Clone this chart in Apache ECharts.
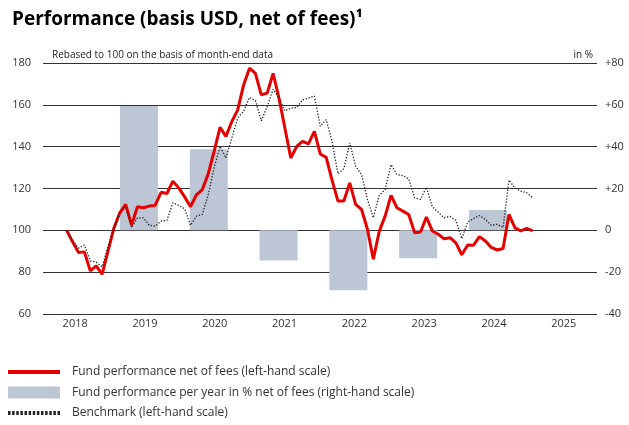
<!DOCTYPE html>
<html>
<head>
<meta charset="utf-8">
<script src="https://cdn.jsdelivr.net/npm/echarts@6/dist/echarts.min.js"></script>
<style>
  html, body { margin: 0; padding: 0; background: #fff; }
  #chart { width: 629px; height: 425px; }
</style>
</head>
<body>
<div id="chart"></div>
<script>
// ---- Data ----
// Month-end values, one per month, starting mid-2018 (month index 0)
const fund = [
  100, 94.5, 89.4, 89.7, 80.6, 83, 79, 90, 101, 108.4,
  112.4, 102.5, 111.3, 110.8, 111.6, 111.9, 118.2, 117.6, 123.5, 120.3,
  116, 111.3, 117, 119.5, 127, 137.8, 149.2, 144.9, 152, 157.6,
  169.5, 177.5, 175, 164.8, 165.6, 175, 163.2, 148.9, 134.6, 140.1,
  142.5, 141.3, 147.3, 136.5, 134.9, 124, 114, 114, 122.7, 112.4,
  110, 100.5, 86.2, 99.5, 106.8, 116.7, 110.8, 109.2, 107.6, 98.9,
  99.2, 106.3, 99.7, 98.1, 96, 96.5, 94, 88.3, 93, 92.9,
  97, 94.9, 91.8, 90.6, 91.3, 107.6, 101.3, 99.7, 101, 99.7
];
const benchmark = [
  100, 95, 91.5, 93, 85.4, 84.8, 82.5, 92, 101, 108,
  111.3, 101.3, 106, 106, 102.4, 102, 104.4, 104.8, 113.2, 111.9,
  110.3, 102.4, 106.8, 107.6, 117.1, 129.9, 140.1, 134.6, 144.1, 153.7,
  157, 163.5, 162, 152.4, 159.2, 167.5, 163.2, 157.1, 158.4, 158.7,
  162.4, 163.2, 164.2, 149.7, 152.9, 142.5, 127, 129.5, 141.8, 130.6,
  126.7, 114.8, 106, 116.7, 119.5, 131.4, 126.7, 126.2, 124.6, 115.6,
  114.8, 120.6, 111.3, 108.7, 106, 106.7, 104.8, 96, 104, 105.6,
  107.1, 105.2, 102.4, 102.9, 101.3, 124, 120.3, 118.7, 118, 115.6
];
const barYears = [2019, 2020, 2021, 2022, 2023, 2024];
const barValues = [59.5, 38.8, -14.4, -28.7, -13.4, 9.7];
const yearLabels = [2018, 2019, 2020, 2021, 2022, 2023, 2024, 2025];

const names = {
  fund: 'Fund performance net of fees (left-hand scale)',
  bars: 'Fund performance per year in % net of fees (right-hand scale)',
  bench: 'Benchmark (left-hand scale)'
};

// ---- Styling ----
const FONT = '"Open Sans", "Noto Sans", sans-serif';
const RED = '#e60000';
const BARC = '#bdc6d4';
const DARK = '#222222';

// dotted legend swatch built as a row of small squares
let dotPath = 'path://';
for (let i = 0; i < 13; i++) { const x = i * 4; dotPath += 'M' + x + ',0h2.4v4h-2.4z'; }

const chart = echarts.init(document.getElementById('chart'), null, { renderer: 'canvas' });
chart.setOption({
  animation: false,
  textStyle: { fontFamily: FONT },
  title: [
    { text: 'Performance (basis USD, net of fees)¹', left: 7, top: 5,
      textStyle: { fontFamily: FONT, fontSize: 19, fontWeight: 'bold', color: '#000' } },
    { text: 'Rebased to 100 on the basis of month-end data', left: 47, top: 45,
      textStyle: { fontFamily: FONT, fontSize: 10, fontWeight: 'normal', color: '#222' } },
    { text: 'in %', right: 31, top: 45,
      textStyle: { fontFamily: FONT, fontSize: 10, fontWeight: 'normal', color: '#222' } }
  ],
  grid: { left: 43, right: 32, top: 63, bottom: 111, containLabel: false },
  legend: {
    orient: 'vertical', left: 8, top: 366, itemWidth: 52, itemHeight: 12, itemGap: 8.5,
    selectedMode: false, padding: 0,
    textStyle: { fontFamily: FONT, fontSize: 12, color: '#333', padding: [0, 0, 0, 7] },
    data: [
      { name: names.fund, icon: 'path://M0,0H52V4H0Z', itemStyle: { color: RED } },
      { name: names.bars, icon: 'rect', itemStyle: { color: BARC } },
      { name: names.bench, icon: dotPath, itemStyle: { color: DARK } }
    ]
  },
  xAxis: [
    { type: 'value', min: -4.02, max: 89.93, show: false },
    { type: 'value', min: 2017.625, max: 2025.562, position: 'bottom',
      axisLine: { show: false }, axisTick: { show: false }, splitLine: { show: false },
      axisLabel: { customValues: yearLabels, formatter: v => String(Math.round(v)),
        fontFamily: FONT, fontSize: 11, color: '#333', margin: 4, padding: [0, 0, 0, 12] } }
  ],
  yAxis: [
    { type: 'value', min: 60, max: 180, interval: 20, position: 'left',
      axisLine: { show: false }, axisTick: { show: false },
      axisLabel: { fontFamily: FONT, fontSize: 11, color: '#333', margin: 12 },
      splitLine: { show: true, lineStyle: { color: '#333', width: 1 } } },
    { type: 'value', min: -40, max: 80, interval: 20, position: 'right',
      axisLine: { show: false }, axisTick: { show: false }, splitLine: { show: false },
      axisLabel: { fontFamily: FONT, fontSize: 11, color: '#333', margin: 8,
        formatter: v => (v > 0 ? '+' + v : String(v)) } }
  ],
  series: [
    { name: names.bars, type: 'bar', xAxisIndex: 1, yAxisIndex: 1, barWidth: 38,
      itemStyle: { color: BARC }, z: 1,
      data: barYears.map((y, i) => [y, barValues[i]]) },
    { name: names.fund, type: 'line', xAxisIndex: 0, yAxisIndex: 0, symbol: 'none',
      lineStyle: { color: RED, width: 3 }, itemStyle: { color: RED }, z: 3,
      data: fund.map((v, i) => [i, v]) },
    { name: names.bench, type: 'line', xAxisIndex: 0, yAxisIndex: 0, symbol: 'none',
      lineStyle: { color: DARK, width: 1.3, type: [1.3, 1.7] }, itemStyle: { color: DARK }, z: 4,
      data: benchmark.map((v, i) => [i, v]) }
  ]
});
</script>
</body>
</html>
